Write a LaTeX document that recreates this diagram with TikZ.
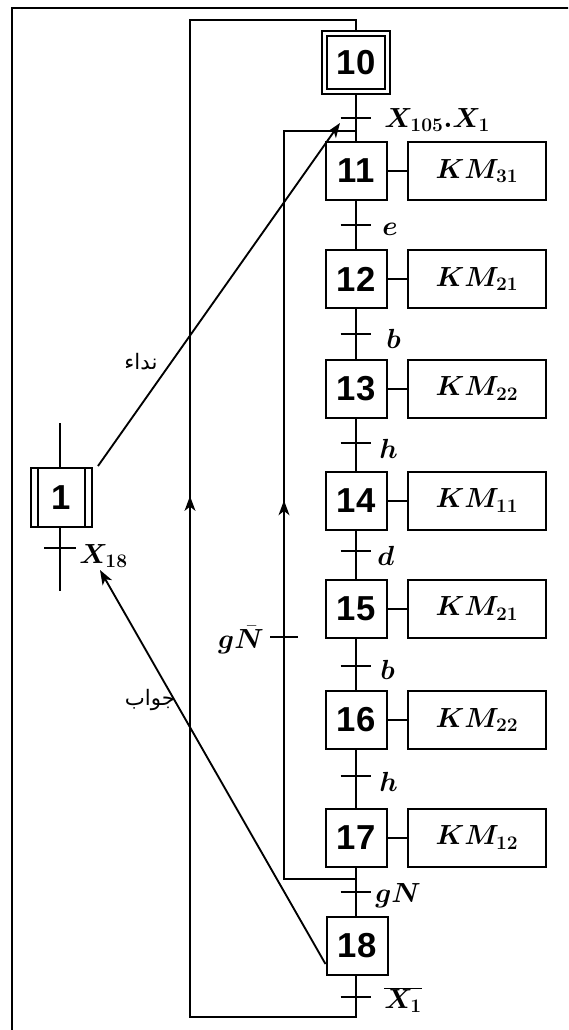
\documentclass[tikz,border=0pt]{standalone}
\usepackage{fontspec}
\usepackage{bm}
\usetikzlibrary{arrows.meta,decorations.markings}
\newfontfamily\stepfont{Liberation Sans}
\newfontfamily\arabicfont[Script=Arabic]{DejaVu Sans}
\TeXXeTstate=1
\begin{document}
\begin{tikzpicture}[x=0.75pt,y=-0.75pt,
  stepbox/.style={draw,line width=1.5pt,minimum width=45.75pt,minimum height=43.5pt,inner sep=0pt,font=\stepfont\bfseries\fontsize{26}{30}\selectfont},
  actbox/.style={draw,line width=1.5pt,minimum width=103.5pt,minimum height=43.5pt,inner sep=0pt,font=\fontsize{20}{24}\selectfont},
  lbl/.style={inner sep=0pt,font=\fontsize{20}{24}\selectfont},
  arlbl/.style={inner sep=0pt,font=\arabicfont\fontsize{16}{19}\selectfont},
  mainline/.style={line width=2.2pt},
  bar/.style={line width=2pt},
  link/.style={line width=1.5pt},
  arr/.style={line width=1.4pt,-{Stealth[length=11pt,width=8pt,inset=3pt]}},
  uparrow/.style={postaction={decorate},decoration={markings,mark=at position #1 with {\arrow{Stealth[length=11pt,width=8pt,inset=3pt]}}}}
]
\useasboundingbox (0,0) rectangle (568,1030);
\clip (0,0) rectangle (568,1030);
\fill[white] (0,0) rectangle (568,1030);
% outer frame
\draw[line width=1.2pt] (12,1100) -- (12,8) -- (700,8);

% step 10 (initial)
\node[stepbox,minimum width=43.5pt,minimum height=39.75pt] (s10) at (356,62.5) {10};
\node[draw,line width=1.5pt,minimum width=51pt,minimum height=47.25pt,inner sep=0pt] (s10o) at (356,62.5) {};

% steps
\node[stepbox] (s11) at (356,171) {11};
\node[stepbox] (s12) at (356,279) {12};
\node[stepbox] (s13) at (356,388.5) {13};
\node[stepbox] (s14) at (356,500.5) {14};
\node[stepbox] (s15) at (356,608.5) {15};
\node[stepbox] (s16) at (356,720) {16};
\node[stepbox] (s17) at (356,837.5) {17};
\node[stepbox] (s18) at (357,946) {18};

% actions
\node[actbox] (a11) at (477,171) {$\bm{KM_{31}}$};
\node[actbox] (a12) at (477,279) {$\bm{KM_{21}}$};
\node[actbox] (a13) at (477,388.5) {$\bm{KM_{22}}$};
\node[actbox] (a14) at (477,500.5) {$\bm{KM_{11}}$};
\node[actbox] (a15) at (477,608.5) {$\bm{KM_{21}}$};
\node[actbox] (a16) at (477,720) {$\bm{KM_{22}}$};
\node[actbox] (a17) at (477,837.5) {$\bm{KM_{12}}$};
\foreach \i in {11,...,17} \draw[link] (s\i.east) -- (a\i.west);

% main chain
\draw[mainline] (s10o.south) -- (s11.north);
\foreach \i/\j in {11/12,12/13,13/14,14/15,15/16,16/17} \draw[mainline] (s\i.south) -- (s\j.north);
\draw[mainline] (s17.south) -- (s17.south |- s18.north);

% transitions
\foreach \n/\y in {t1/118,t2/225,t3/334,t4/443,t5/551,t6/666,t7/776,t8/892,t9/997}
  \coordinate (\n) at (356,\y);
\foreach \n in {t1,t2,t3,t4,t5,t6,t7,t8,t9}
  \draw[bar] ([xshift=-11.5pt]\n) -- ([xshift=11.5pt]\n);

% transition labels
\node[lbl,anchor=west] (c1) at (384,120) {$\bm{X_{105}.X_1}$};
\node[lbl,anchor=west] (c2) at (382,229) {$\bm{e}$};
\node[lbl,anchor=west] (c3) at (386,339) {$\bm{b}$};
\node[lbl,anchor=west] (c4) at (379,449) {$\bm{h}$};
\node[lbl,anchor=west] (c5) at (377,556) {$\bm{d}$};
\node[lbl,anchor=west] (c6) at (380,670) {$\bm{b}$};
\node[lbl,anchor=west] (c7) at (379,782) {$\bm{h}$};
\node[lbl,anchor=west] (c8) at (375,896) {$\bm{gN}$};
\node[lbl,anchor=west] (c9) at (384,1000) {$\overline{\bm{X_1}}$};

% outer loop 18 -> 10
\coordinate (b1) at (356,1017);
\coordinate (b2) at (190,1017);
\coordinate (b3) at (190,20);
\coordinate (b4) at (356,20);
\draw[mainline,uparrow=546pt] (s18.south -| b1) -- (b1) -- (b2) -- (b3) -- (b4) -- (s10o.north);

% inner loop 17 -> 11
\coordinate (j1) at (356,879);
\coordinate (k1) at (284,879);
\coordinate (k2) at (284,131);
\coordinate (j2) at (356,131);
\draw[mainline,uparrow=338pt] (j1) -- (k1) -- (k2) -- (j2);
\coordinate (tg) at (284,637);
\draw[bar] ([xshift=-10.5pt]tg) -- ([xshift=10.5pt]tg);
\node[lbl,anchor=east] (cg) at (264,640) {$\bm{g\bar{N}}$};

% step 1
\node[stepbox,minimum width=45.75pt,minimum height=44.25pt] (s1) at (61.5,497.5) {1};
\draw[link] ([xshift=6pt]s1.north west) -- ([xshift=6pt]s1.south west);
\draw[link] ([xshift=-6pt]s1.north east) -- ([xshift=-6pt]s1.south east);
\coordinate (p1) at (60,423);
\coordinate (p2) at (60,591);
\draw[mainline] (p1) -- (s1.north -| p1);
\draw[mainline] (s1.south -| p1) -- (p2);
\coordinate (tx) at (60,548);
\draw[bar] ([xshift=-12pt]tx) -- ([xshift=12pt]tx);
\node[lbl,anchor=west] (cx) at (79,556) {$\bm{X_{18}}$};

% call / answer arrows
\coordinate (callend) at (340,123);
\draw[arr] ([xshift=3.75pt,yshift=0.75pt]s1.north east) -- (callend);
\node[arlbl] (lcall) at (141,362) {\beginR نداء\endR};
\coordinate (ansend) at (100,570);
\draw[arr] ([yshift=9pt]s18.south west) -- (ansend);
\node[arlbl] (lans) at (150,700) {\beginR جواب\endR};
\end{tikzpicture}
\end{document}
